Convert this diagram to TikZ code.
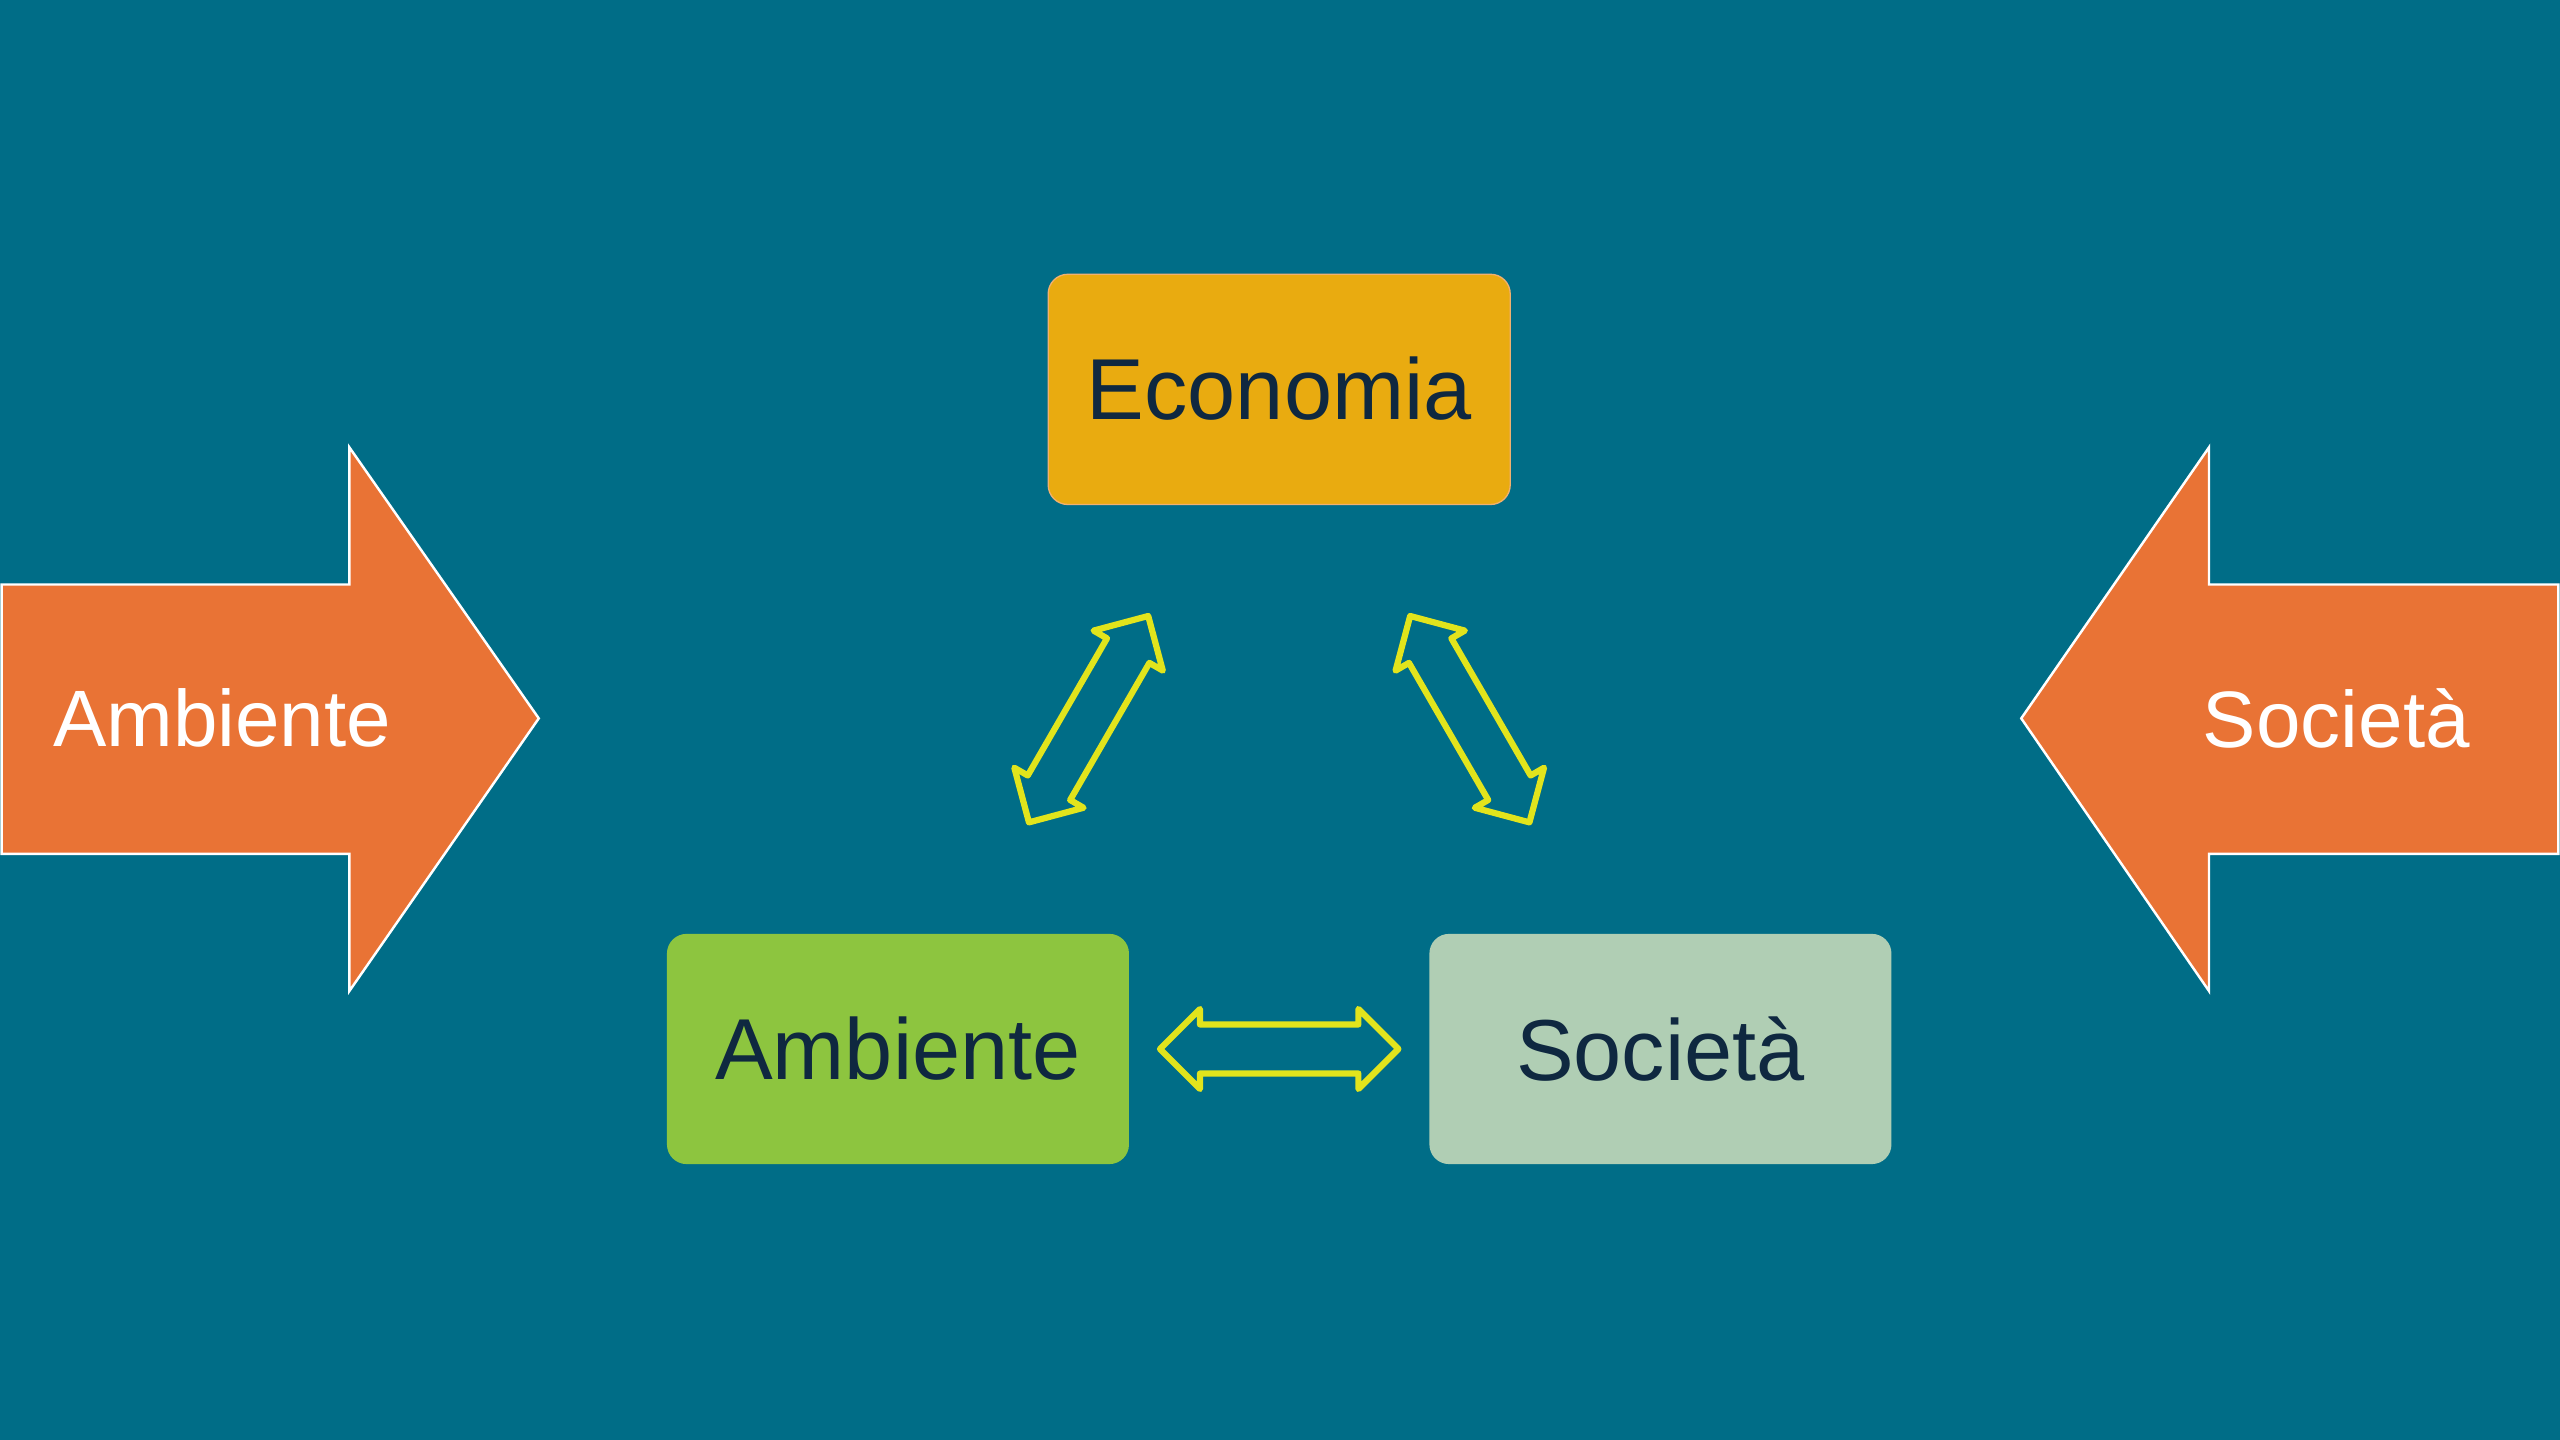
\documentclass[tikz,border=0pt]{standalone}
\usepackage{fontspec}
\setmainfont{Liberation Sans}
\definecolor{bgteal}{RGB}{0,109,135}
\definecolor{econfill}{RGB}{233,171,16}
\definecolor{econline}{RGB}{240,176,112}
\definecolor{ambfill}{RGB}{141,197,63}
\definecolor{socfill}{RGB}{176,206,180}
\definecolor{darktext}{RGB}{15,40,64}
\definecolor{orangefill}{RGB}{233,115,53}
\definecolor{arrowyellow}{RGB}{226,228,28}
\tikzset{
  keybox/.style={rectangle, rounded corners=12pt, minimum width=283pt, minimum height=141pt,
    inner sep=0pt, text=darktext, font=\fontsize{53}{60}\selectfont},
  bigarrow/.style={fill=orangefill, draw=white, line width=1.5pt, line join=miter},
  arrowlabel/.style={text=white, inner sep=0pt, font=\fontsize{49}{56}\selectfont},
  yline/.style={draw=arrowyellow, line width=3.8pt, line join=round},
  dblarr/.pic={\draw[yline] (-73,0) -- (-48.5,-24.5) -- (-48.5,-15) -- (48.5,-15) -- (48.5,-24.5)
     -- (73,0) -- (48.5,24.5) -- (48.5,15) -- (-48.5,15) -- (-48.5,24.5) -- cycle;}
}
\begin{document}
\begin{tikzpicture}[x=1pt,y=-1pt]
\fill[bgteal] (0,0) rectangle (1568,882);
\useasboundingbox (0,0) rectangle (1568,882);
% side arrows
\draw[bigarrow] (1,358) -- (214,358) -- (214,274) -- (330,440) -- (214,607) -- (214,523) -- (1,523) -- cycle;
\node[arrowlabel] (lefttxt) at (136,440) {Ambiente};
\draw[bigarrow] (1567,358) -- (1353,358) -- (1353,274) -- (1238,440) -- (1353,607) -- (1353,523) -- (1567,523) -- cycle;
\node[arrowlabel] (righttxt) at (1431,440) {Società};
% boxes
\node[keybox, fill=econfill, draw=econline, line width=0.8pt] (econ) at (783.5,238.5) {\raisebox{2pt}{Economia}};
\node[keybox, fill=ambfill] (amb) at (550,642.5) {\raisebox{1pt}{Ambiente}};
\node[keybox, fill=socfill] (soc) at (1017,642.5) {Società};
% double arrows
\path (econ.center) -- (amb.center) pic[pos=0.5, sloped] {dblarr};
\path (econ.center) -- (soc.center) pic[pos=0.5, sloped] {dblarr};
\path (amb.center) -- (soc.center) pic[pos=0.5, sloped] {dblarr};
\end{tikzpicture}
\end{document}
